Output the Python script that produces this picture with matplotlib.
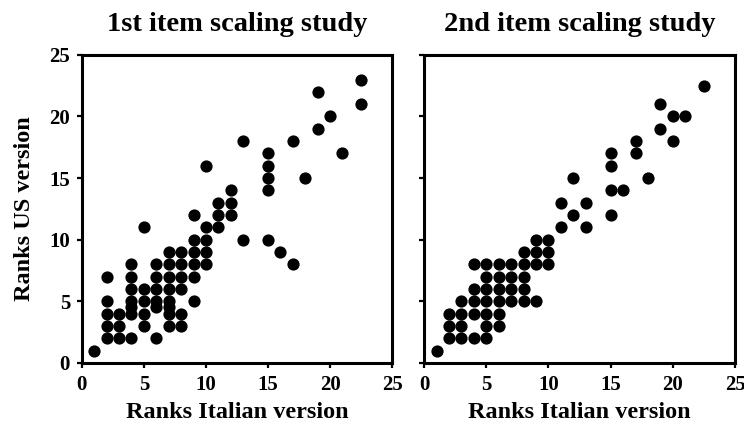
import matplotlib.pyplot as plt

plt.rcParams["font.family"] = ["Liberation Serif", "DejaVu Serif"]
plt.rcParams["font.weight"] = "bold"

# rank pairs (Italian version, US version) for the two scaling studies
study1_it = [1,
             2, 2, 2, 2, 2,
             3, 3, 3,
             4, 4, 4, 4, 4, 4, 4,
             5, 5, 5, 5, 5,
             6, 6, 6, 6, 6, 6,
             7, 7, 7, 7, 7, 7, 7, 7,
             8, 8, 8, 8, 8, 8,
             9, 9, 9, 9, 9, 9,
             10, 10, 10, 10, 10,
             11, 11, 11,
             12, 12, 12,
             13, 13,
             15, 15, 15, 15, 15,
             16,
             17, 17,
             18,
             19, 19,
             20,
             21,
             22.5, 22.5]
study1_us = [1,
             2, 3, 4, 5, 7,
             2, 3, 4,
             2, 4, 4.5, 5, 6, 7, 8,
             3, 4, 5, 6, 11,
             2, 4.5, 5, 6, 7, 8,
             3, 4, 4.5, 5, 6, 7, 8, 9,
             3, 4, 6, 7, 8, 9,
             5, 7, 8, 9, 10, 12,
             8, 9, 10, 11, 16,
             11, 12, 13,
             12, 13, 14,
             10, 18,
             10, 14, 15, 16, 17,
             9,
             8, 18,
             15,
             19, 22,
             20,
             17,
             21, 23]

study2_it = [1,
             2, 2, 2,
             3, 3, 3, 3,
             4, 4, 4, 4, 4,
             5, 5, 5, 5, 5, 5, 5,
             6, 6, 6, 6, 6, 6,
             7, 7, 7, 7,
             8, 8, 8, 8, 8,
             9, 9, 9, 9,
             10, 10, 10,
             11, 11,
             12, 12,
             13, 13,
             15, 15, 15, 15,
             16,
             17, 17,
             18,
             19, 19,
             20, 20,
             21,
             22.5]
study2_us = [1,
             2, 3, 4,
             2, 3, 4, 5,
             2, 4, 5, 6, 8,
             2, 3, 4, 5, 6, 7, 8,
             3, 4, 5, 6, 7, 8,
             5, 6, 7, 8,
             5, 6, 7, 8, 9,
             5, 8, 9, 10,
             8, 9, 10,
             11, 13,
             12, 15,
             11, 13,
             12, 14, 16, 17,
             14,
             17, 18,
             15,
             19, 21,
             18, 20,
             20,
             22.5]

ticks = [0, 5, 10, 15, 20, 25]

fig = plt.figure(figsize=(7.44, 4.32), dpi=100)
ax1 = fig.add_axes([0.110, 0.160, 0.417, 0.713])
ax2 = fig.add_axes([0.570, 0.160, 0.418, 0.713])

panels = [
    (ax1, study1_it, study1_us, "1st item scaling study"),
    (ax2, study2_it, study2_us, "2nd item scaling study"),
]
for ax, xs, ys, title in panels:
    ax.plot(xs, ys, "o", color="black", markersize=8.8, markeredgewidth=0,
            clip_on=False)
    ax.set_xlim(0, 25)
    ax.set_ylim(0, 25)
    ax.set_xticks(ticks)
    ax.set_yticks(ticks)
    for sp in ax.spines.values():
        sp.set_linewidth(2.2)
    ax.tick_params(direction="out", length=3.5, width=1.6, labelsize=15,
                   pad=5, top=False, right=False)
    ax.set_title(title, fontsize=20.5, fontweight="bold", pad=17)
    ax.set_xlabel("Ranks Italian version", fontsize=17.5, fontweight="bold",
                  labelpad=5)

ax1.set_ylabel("Ranks US version", fontsize=17.5, fontweight="bold",
               labelpad=10)
ax2.tick_params(labelleft=False)

fig.savefig("out.png", dpi=100)
